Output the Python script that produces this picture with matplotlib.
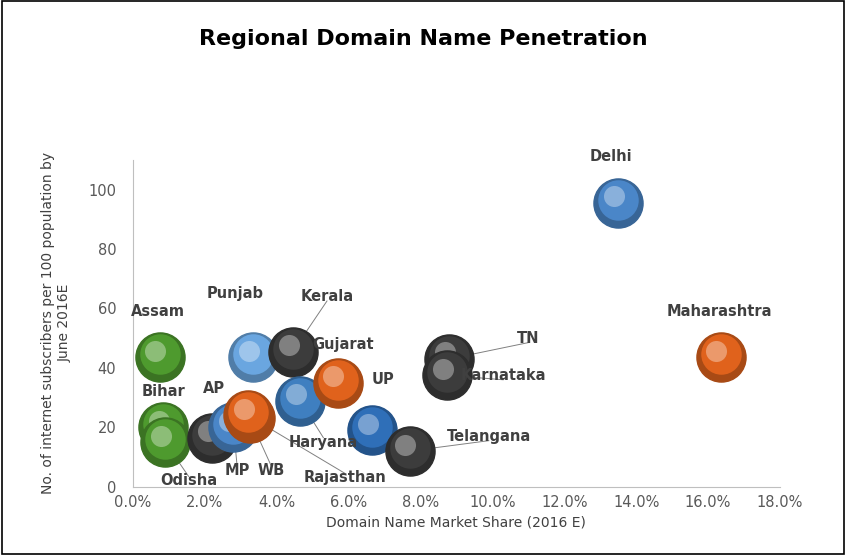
import matplotlib.pyplot as plt
import matplotlib.colors as mcolors

states = ['Delhi', 'Maharashtra', 'Assam', 'Bihar', 'Odisha', 'AP', 'MP', 'WB',
          'Rajasthan', 'Punjab', 'Kerala', 'Haryana', 'Gujarat', 'UP', 'Telangana',
          'TN', 'Karnataka']
share = [13.5, 16.35, 0.75, 0.85, 0.9, 2.2, 2.8, 3.25, 3.2, 3.35, 4.45, 4.65, 5.7,
         6.65, 7.7, 8.8, 8.75]
subs = [95.5, 43.5, 43.5, 20, 15, 16.5, 20, 23, 24, 43.5, 45.5, 29, 35, 19, 12,
        43, 37.5]
colors = ['#4a86c8', '#e0621c', '#4e9a2e', '#4e9a2e', '#4e9a2e', '#3c3c3c',
          '#4a86c8', '#e0621c', '#e0621c', '#6aa6e0', '#3c3c3c', '#3f7fc0',
          '#e0621c', '#2f6fb8', '#3c3c3c', '#3c3c3c', '#3c3c3c']
# label positions (text anchor in data coords) and whether to draw leader line
labels = {
    'Delhi': (13.3, 111, False), 'Maharashtra': (16.3, 59, False),
    'Assam': (0.7, 59, False), 'Bihar': (0.85, 32, False),
    'Odisha': (1.55, 2, True), 'AP': (2.25, 33, False), 'MP': (2.9, 5.5, True),
    'WB': (3.85, 5.5, True), 'Rajasthan': (5.9, 3, True), 'Punjab': (2.85, 65, False),
    'Kerala': (5.4, 64, True), 'Haryana': (5.3, 15, True), 'Gujarat': (5.85, 48, False),
    'UP': (6.95, 36, False), 'Telangana': (9.9, 17, True), 'TN': (11.0, 50, True),
    'Karnataka': (10.3, 37.5, True),
}

fig = plt.figure(figsize=(8.46, 5.55), dpi=100)
ax = fig.add_axes([0.157, 0.123, 0.765, 0.589])

def darker(c, f):
    r, g, b = mcolors.to_rgb(c)
    return (r * f, g * f, b * f)

def lighter(c, f):
    r, g, b = mcolors.to_rgb(c)
    return (r + (1 - r) * f, g + (1 - g) * f, b + (1 - b) * f)

for x, y, c in zip(share, subs, colors):
    ax.scatter(x, y, s=1250, color=darker(c, 0.75), zorder=3)
    ax.scatter(x, y + 1.0, s=850, color=c, zorder=3, linewidths=0)
    ax.scatter(x - 0.12, y + 2.2, s=230, color=lighter(c, 0.35), zorder=3, linewidths=0)

for name, x, y in zip(states, share, subs):
    tx, ty, line = labels[name]
    ax.text(tx, ty, name, ha='center', va='center', fontsize=10.5, color='#404040',
            fontweight='semibold', zorder=5, clip_on=False)
    if line:
        ax.plot([tx, x], [ty + 1.5 if ty < y else ty - 1.5, y], color='#808080',
                lw=0.7, zorder=2)

ax.set_xlim(0, 18)
ax.set_ylim(0, 110)
ax.set_xticks(range(0, 19, 2))
ax.set_xticklabels([f'{v:.1f}%' for v in range(0, 19, 2)])
ax.set_yticks(range(0, 101, 20))
ax.tick_params(colors='#595959', labelsize=10.5, length=0)
ax.tick_params(axis='y', pad=12)
ax.tick_params(axis='x', pad=6)
for s in ['top', 'right']:
    ax.spines[s].set_visible(False)
for s in ['left', 'bottom']:
    ax.spines[s].set_color('#bfbfbf')
ax.set_xlabel('Domain Name Market Share (2016 E)', fontsize=10, color='#404040')
ax.set_ylabel('No. of internet subscribers per 100 population by\nJune 2016E',
              fontsize=10, color='#404040', labelpad=12)
fig.text(0.5, 0.93, 'Regional Domain Name Penetration', ha='center', va='center',
         fontsize=16, fontweight='bold')
fig.patches.append(plt.Rectangle((0.002, 0.002), 0.996, 0.996, transform=fig.transFigure,
                                 fill=False, edgecolor='black', lw=1.2))
fig.savefig('out.png')
